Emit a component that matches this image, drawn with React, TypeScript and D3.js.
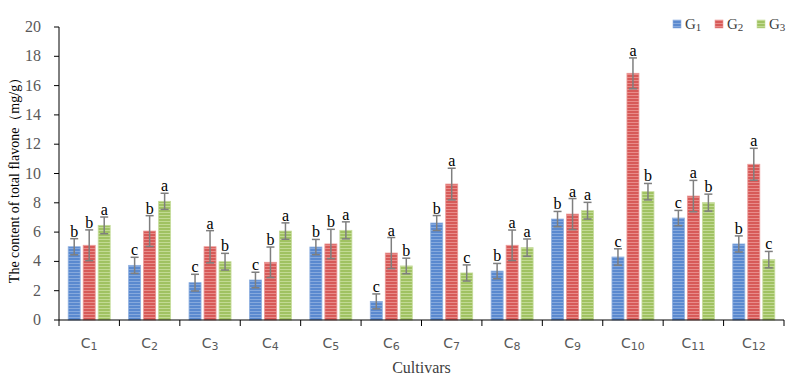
import React from "react";
import * as d3 from "d3";

const categories = ["1","2","3","4","5","6","7","8","9","10","11","12"];
const seriesNames = ["1","2","3"];
const g1Values = [5.0, 3.73, 2.55, 2.73, 4.98, 1.27, 6.62, 3.34, 6.89, 4.3, 6.96, 5.19];
const g2Values = [5.1, 6.07, 5.0, 3.94, 5.19, 4.57, 9.28, 5.1, 7.23, 16.84, 8.46, 10.63];
const g3Values = [6.46, 8.1, 3.98, 6.07, 6.12, 3.69, 3.21, 4.94, 7.46, 8.76, 8.01, 4.12];
const g1Errors = [0.55, 0.55, 0.57, 0.53, 0.52, 0.51, 0.51, 0.52, 0.52, 0.56, 0.52, 0.55];
const g2Errors = [1.05, 1.05, 1.1, 1.04, 1.0, 1.06, 1.08, 1.04, 1.06, 1.05, 1.07, 1.09];
const g3Errors = [0.57, 0.55, 0.57, 0.56, 0.58, 0.53, 0.55, 0.59, 0.57, 0.56, 0.58, 0.56];
const g1Letters = ["b","c","c","c","b","c","b","b","b","c","c","b"];
const g2Letters = ["b","b","a","b","b","a","a","a","a","a","a","a"];
const g3Letters = ["a","a","b","a","a","b","c","a","a","b","b","c"];
const yTicks = [0, 2, 4, 6, 8, 10, 12, 14, 16, 18, 20];

const colors = [
  { base: "#5a89cf", stripe: "#86a9dd", edge: "#8fb0e0" },
  { base: "#d75a58", stripe: "#e88c8a", edge: "#eb9896" },
  { base: "#a0c262", stripe: "#c2da94", edge: "#c6dc9c" },
];

export default function App() {
  const W = 800, H = 381;
  const left = 59, right = 784, top = 27, bottom = 320;
  const x = d3.scaleBand<string>().domain(categories).range([left, right]).paddingInner(0).paddingOuter(0);
  const y = d3.scaleLinear().domain([0, 20]).range([bottom, top]);
  const barW = 12, gap = 3;
  const values = [g1Values, g2Values, g3Values];
  const errors = [g1Errors, g2Errors, g3Errors];
  const letters = [g1Letters, g2Letters, g3Letters];
  const serif = "'Liberation Serif', 'Times New Roman', serif";

  return (
    <svg width={W} height={H} style={{ position: "absolute", left: 0, top: 0, background: "#fff" }}>
      <defs>
        {colors.map((c, i) => (
          <pattern key={i} id={`stripe${i}`} width={4} height={3} patternUnits="userSpaceOnUse">
            <rect width={4} height={3} fill={c.base} />
            <rect y={2} width={4} height={1} fill={c.stripe} />
          </pattern>
        ))}
      </defs>
      <rect x={0} y={0} width={W} height={H} fill="#fff" />

      {/* bars */}
      {categories.map((cat, ci) => {
        const cx = (x(cat) as number) + x.bandwidth() / 2;
        return (
          <g key={cat}>
            {values.map((vals, si) => {
              const bx = cx + (si - 1) * (barW + gap) - barW / 2;
              const v = vals[ci];
              const e = errors[si][ci];
              const bxc = bx + barW / 2;
              return (
                <g key={si}>
                  <rect x={bx} y={y(v)} width={barW} height={y(0) - y(v)} fill={`url(#stripe${si})`} stroke={colors[si].edge} strokeWidth={0.8} />
                  <line x1={bxc} x2={bxc} y1={y(v + e)} y2={y(v - e)} stroke="#7f7f7f" strokeWidth={1.5} />
                  <line x1={bxc - 4} x2={bxc + 4} y1={y(v + e)} y2={y(v + e)} stroke="#7f7f7f" strokeWidth={1.5} />
                  <line x1={bxc - 4} x2={bxc + 4} y1={y(v - e)} y2={y(v - e)} stroke="#7f7f7f" strokeWidth={1.5} />
                  <text x={bxc} y={y(v + e) - 2} textAnchor="middle" fontFamily={serif} fontSize={16} fill="#000">{letters[si][ci]}</text>
                </g>
              );
            })}
          </g>
        );
      })}

      {/* y axis */}
      <line x1={left} x2={left} y1={top} y2={bottom} stroke="#000" strokeWidth={1} />
      {yTicks.map((t) => (
        <g key={t}>
          <line x1={left - 5} x2={left} y1={y(t)} y2={y(t)} stroke="#000" strokeWidth={1} />
          <text x={41} y={y(t) + 5} textAnchor="end" fontFamily={serif} fontSize={16} fill="#595959">{t}</text>
        </g>
      ))}

      {/* x axis */}
      <line x1={left} x2={right} y1={bottom} y2={bottom} stroke="#000" strokeWidth={1} />
      {[...categories.map((c) => x(c) as number), right].map((px, i) => (
        <line key={i} x1={px} x2={px} y1={bottom} y2={bottom + 6} stroke="#000" strokeWidth={1} />
      ))}
      {categories.map((cat) => (
        <text key={cat} x={(x(cat) as number) + x.bandwidth() / 2} y={348} textAnchor="middle" fontFamily="'DejaVu Sans', sans-serif" fontSize={14} fill="#595959">
          C<tspan fontSize={11} dy={2}>{cat}</tspan>
        </text>
      ))}

      {/* axis titles */}
      <text x={(left + right) / 2} y={373} textAnchor="middle" fontFamily={serif} fontSize={16} fill="#404040">Cultivars</text>
      <text transform={`translate(19,${177}) rotate(-90)`} textAnchor="middle" fontFamily={serif} fontSize={14} fill="#000">The content of total flavone（mg/g）</text>

      {/* legend */}
      {seriesNames.map((s, i) => {
        const lx = 673 + i * 42;
        return (
          <g key={s}>
            <rect x={lx} y={20} width={8} height={8} fill={`url(#stripe${i})`} stroke={colors[i].edge} strokeWidth={0.6} />
            <text x={lx + 12} y={29} fontFamily={serif} fontSize={15} fill="#404040">
              G<tspan fontSize={11} dy={2}>{s}</tspan>
            </text>
          </g>
        );
      })}
    </svg>
  );
}
